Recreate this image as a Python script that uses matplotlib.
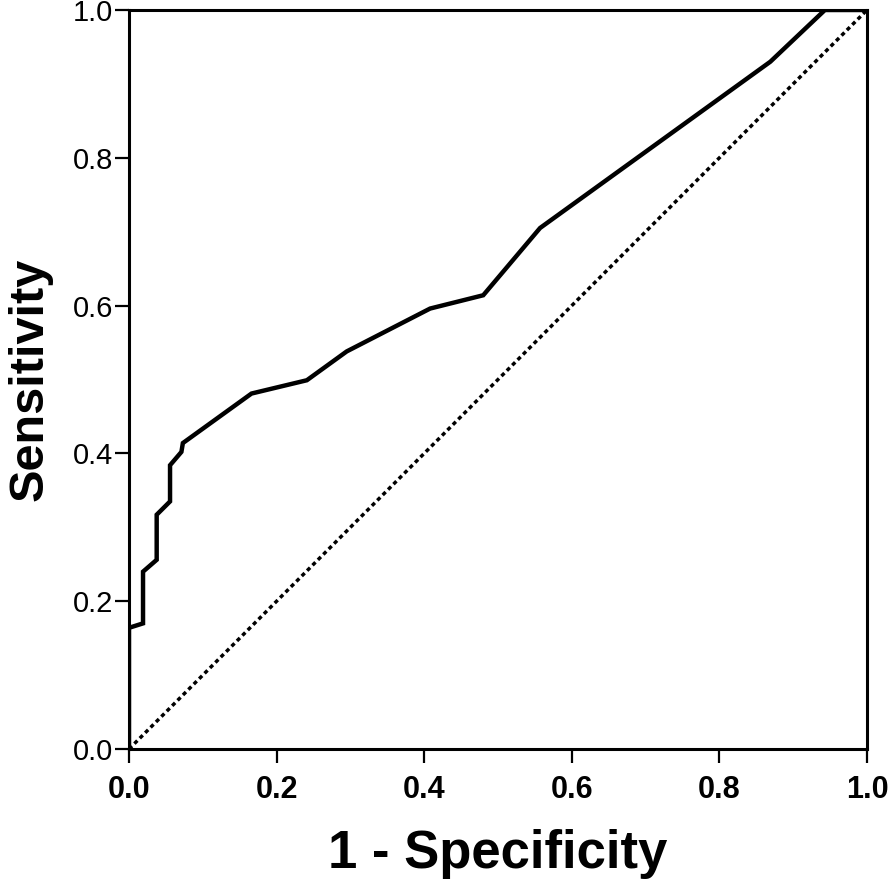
import matplotlib
matplotlib.use('Agg')
import matplotlib.pyplot as plt

# ROC curve points
fpr = [0.0, 0.0, 0.019, 0.019, 0.0375, 0.0375, 0.0556, 0.0556, 0.071, 0.073,
       0.166, 0.241, 0.295, 0.408, 0.480, 0.557, 0.869, 0.943, 1.0]
tpr = [0.0, 0.164, 0.170, 0.240, 0.256, 0.317, 0.335, 0.384, 0.402, 0.414,
       0.481, 0.499, 0.538, 0.596, 0.614, 0.705, 0.930, 1.0, 1.0]

ticks = [0.0, 0.2, 0.4, 0.6, 0.8, 1.0]
tick_labels = ['0.0', '0.2', '0.4', '0.6', '0.8', '1.0']

plt.rcParams['font.family'] = ['Liberation Sans', 'DejaVu Sans']

fig = plt.figure(figsize=(8.94, 8.84), dpi=100)
ax = fig.add_axes([0.1443, 0.1527, 0.8255, 0.836])

# reference diagonal
ax.plot([0, 1], [0, 1], color='black', linestyle=(0, (1.2, 1.0)), linewidth=2.5)
ax.plot(fpr, tpr, color='black', linewidth=3.2, solid_joinstyle='miter')

ax.set_xlim(0, 1)
ax.set_ylim(0, 1)
ax.set_xticks(ticks)
ax.set_yticks(ticks)
ax.set_xticklabels(tick_labels, fontsize=22, fontweight='bold')
ax.set_yticklabels(tick_labels, fontsize=21)
ax.tick_params(axis='both', direction='out', length=10, width=1.6, color='black')
ax.tick_params(axis='x', pad=9)
ax.tick_params(axis='y', pad=1.5)

for s in ax.spines.values():
    s.set_linewidth(2.2)

ax.set_xlabel('1 - Specificity', fontsize=38, fontweight='bold')
ax.set_ylabel('Sensitivity', fontsize=35, fontweight='bold')
ax.xaxis.set_label_coords(0.5, -0.108)
ax.yaxis.set_label_coords(-0.104, 0.5)

fig.savefig('out.png', dpi=100)
